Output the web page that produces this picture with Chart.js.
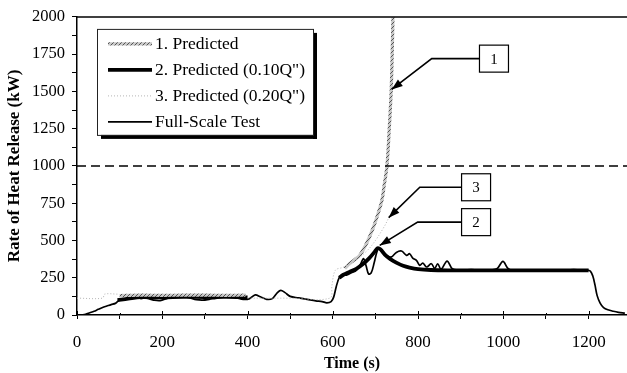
<!DOCTYPE html>
<html><head><meta charset="utf-8">
<script src="https://cdn.jsdelivr.net/npm/chart.js@4.4.0/dist/chart.umd.min.js"></script>
<style>html,body{margin:0;background:#fff}#wrap{width:627px;height:373px}</style>
</head><body><div id="wrap"><canvas id="hrr"></canvas></div>
<script>
// full-scale burner test
const testT=[10,20,30,40,50,60,70,80,90,95,100,110,120,130,140,150,160,170,180,195,210,225,235,250,265,280,295,310,325,340,360,375,390,405,418,430,445,458,470,478,488,500,520,540,560,575,586,596,602,608,615,622,632,645,655,665,672,678,684,690,697,703,708,718,728,737,749,761,773,780,788,796,804,811,820,831,839,846,854,868,880,895,910,925,940,955,970,985,999,1010,1020,1030,1045,1060,1075,1090,1105,1120,1135,1150,1165,1180,1195,1204,1210,1215,1220,1227,1235,1245,1258,1270,1285];
const testQ=[0,5,15,25,38,50,60,70,78,90,100,105,110,115,120,110,115,108,100,97,110,125,130,125,115,103,100,105,112,118,125,115,105,110,135,122,105,110,150,165,150,125,115,105,95,90,82,90,120,190,250,270,268,285,300,340,378,330,275,282,350,420,445,415,395,389,420,429,400,411,380,367,333,349,322,344,313,344,307,362,311,300,302,305,300,300,302,310,360,315,298,295,298,302,300,303,298,300,303,300,305,300,302,295,260,200,130,80,50,35,25,18,12];
// 1. Predicted
const pred1T=[95,100,150,200,250,300,350,395,500,628,640,652,663,679,694,706,715,721,727,732,737,740,741];
const pred1Q=[null,130,133,132,133,133,132,133,null,313,347,372,400,480,580,680,767,880,1000,1230,1513,1850,2000];
// 2. Predicted (0.10Q")
const pred2T=[95,120,150,200,250,300,350,400,500,615,625,640,655,670,685,697,705,712,722,735,750,765,780,800,830,870,950,1050,1150,1200];
const pred2Q=[100,110,120,118,122,120,122,118,null,250,270,290,310,340,380,420,448,440,405,375,350,330,318,308,302,300,300,300,300,300];
// 3. Predicted (0.20Q")
const pred3T=[0,60,65,95,120,400,500,593,598,606,624,650,680,700,720,731];
const pred3Q=[113,113,140,140,null,113,113,113,200,300,320,360,430,500,590,650];
// 1000 kW reference level
const refT=[0,1290];
const refQ=[1000,1000];

const labels=['1. Predicted','2. Predicted (0.10Q")','3. Predicted (0.20Q")','Full-Scale Test'];
const xTicks=[0,100,200,300,400,500,600,700,800,900,1000,1100,1200];
const yTicks=[0,125,250,375,500,625,750,875,1000,1125,1250,1375,1500,1625,1750,1875,2000];

function pts(ts,qs){return ts.map((t,i)=>({x:t,y:qs[i]}));}

function hatch(){
  const c=document.createElement('canvas');c.width=4;c.height=4;
  const g=c.getContext('2d');
  g.fillStyle='#c8c8c8';g.fillRect(0,0,4,4);
  g.strokeStyle='#555';g.lineWidth=1;
  g.beginPath();g.moveTo(0,4);g.lineTo(4,0);g.stroke();
  return g.createPattern(c,'repeat');
}
const grayHatch=hatch();

const serif='"Liberation Serif", "Times New Roman", serif';
const styles=[
  {borderColor:grayHatch,borderWidth:3.2,borderDash:[]},
  {borderColor:'#000',borderWidth:3.8,borderDash:[]},
  {borderColor:'#b5b5b5',borderWidth:1,borderDash:[1,2]},
  {borderColor:'#000',borderWidth:1.7,borderDash:[]}
];

// callouts: box centre (data units), elbow x, arrow tip
const callouts=[
  {text:'1',bx:978,by:1720,ex:832,tx:738,ty:1513},
  {text:'3',bx:936,by:857,ex:804,tx:731,ty:653},
  {text:'2',bx:936,by:623,ex:799,tx:710,ty:467}
];

const decor={
  id:'decor',
  beforeDraw(chart){
    const c=chart.ctx;c.save();c.fillStyle='#fff';c.fillRect(0,0,chart.width,chart.height);c.restore();
  },
  afterDraw(chart){
    const c=chart.ctx,a=chart.chartArea,xs=chart.scales.x,ys=chart.scales.y;
    c.save();
    // top frame line
    c.strokeStyle='#000';c.lineWidth=1.5;
    c.beginPath();c.moveTo(a.left,a.top);c.lineTo(a.right,a.top);c.stroke();
    // inner tick halves on x axis
    c.lineWidth=1;
    xTicks.forEach(v=>{const px=Math.round(xs.getPixelForValue(v))+0.5;c.beginPath();c.moveTo(px,a.bottom);c.lineTo(px,a.bottom-(v%200===0?4:2));c.stroke();});
    // legend box with drop shadow
    const L=a.left+20,T=a.top+12,W=216,H=106;
    c.fillStyle='#fff';c.fillRect(L,T,W,H);
    c.fillStyle='#000';
    c.fillRect(L+W,T+4,4,H);c.fillRect(L+4,T+H,W,4);
    c.lineWidth=1;c.strokeStyle='#222';c.strokeRect(L+0.5,T+0.5,W,H);
    c.font='17.5px '+serif;c.textBaseline='middle';c.textAlign='left';
    labels.forEach((lab,i)=>{
      const y=T+15+i*26,s=styles[i];
      c.strokeStyle=s.borderColor;c.lineWidth=s.borderWidth;c.setLineDash(s.borderDash);
      c.beginPath();c.moveTo(L+11,y);c.lineTo(L+55,y);c.stroke();
      c.setLineDash([]);c.fillStyle='#000';c.fillText(lab,L+58,y+1);
    });
    // numbered callouts
    c.font='15px '+serif;c.textAlign='center';
    callouts.forEach(k=>{
      const bx=xs.getPixelForValue(k.bx),by=ys.getPixelForValue(k.by);
      const ex=xs.getPixelForValue(k.ex),tx=xs.getPixelForValue(k.tx),ty=ys.getPixelForValue(k.ty);
      c.strokeStyle='#000';c.lineWidth=1.6;
      c.beginPath();c.moveTo(bx-14,by);c.lineTo(ex,by);c.lineTo(tx,ty);c.stroke();
      const ang=Math.atan2(ty-by,tx-ex);
      c.fillStyle='#000';c.beginPath();
      c.moveTo(tx,ty);
      c.lineTo(tx-11*Math.cos(ang)+4*Math.sin(ang),ty-11*Math.sin(ang)-4*Math.cos(ang));
      c.lineTo(tx-11*Math.cos(ang)-4*Math.sin(ang),ty-11*Math.sin(ang)+4*Math.cos(ang));
      c.closePath();c.fill();
      c.fillStyle='#fff';c.fillRect(bx-14.5,by-13.5,29,27);
      c.lineWidth=1.2;c.strokeRect(bx-14.5,by-13.5,29,27);
      c.fillStyle='#000';c.fillText(k.text,bx,by+1);
    });
    c.restore();
  }
};

const ds=(d,s,extra)=>Object.assign({data:d,pointRadius:0,fill:false,tension:0.35,spanGaps:false},s,extra||{});

new Chart(document.getElementById('hrr'),{
  type:'line',
  data:{datasets:[
    ds(pts(refT,refQ),{borderColor:'#000',borderWidth:1.5,borderDash:[9,5]},{tension:0}),
    ds(pts(pred3T,pred3Q),styles[2]),
    ds(pts(pred1T,pred1Q),styles[0]),
    ds(pts(testT,testQ),styles[3]),
    ds(pts(pred2T,pred2Q),styles[1])
  ]},
  options:{
    responsive:true,maintainAspectRatio:false,animation:false,
    layout:{padding:{top:15,right:0,left:0,bottom:0}},
    plugins:{legend:{display:false},tooltip:{enabled:false}},
    scales:{
      x:{type:'linear',min:0,max:1290,
        afterBuildTicks:s=>{s.ticks=xTicks.map(v=>({value:v}));},
        afterFit:s=>{s.height=58;s.paddingRight=0;s.paddingLeft=0;},
        grid:{drawOnChartArea:false,tickLength:4,tickColor:'#000'},
        border:{color:'#000',width:1.5},
        ticks:{maxRotation:0,autoSkip:false,padding:13,color:'#000',font:{family:serif,size:17},
          callback:v=>v%200===0?String(v):''},
        title:{display:true,text:'Time (s)',color:'#000',font:{family:serif,size:16,weight:'bold'},padding:{top:0,bottom:0}}
      },
      y:{min:0,max:2000,
        afterBuildTicks:s=>{s.ticks=yTicks.map(v=>({value:v}));},
        afterFit:s=>{s.width=77;},
        grid:{drawOnChartArea:false,tickLength:5,tickColor:'#000'},
        border:{color:'#000',width:1.5},
        ticks:{autoSkip:false,padding:7,color:'#000',font:{family:serif,size:16.5},
          callback:v=>v%250===0?String(v):''},
        title:{display:true,text:'Rate of Heat Release (kW)',color:'#000',font:{family:serif,size:17,weight:'bold'},padding:{top:4,bottom:0}}
      }
    }
  },
  plugins:[decor]
});
</script>
</body></html>
